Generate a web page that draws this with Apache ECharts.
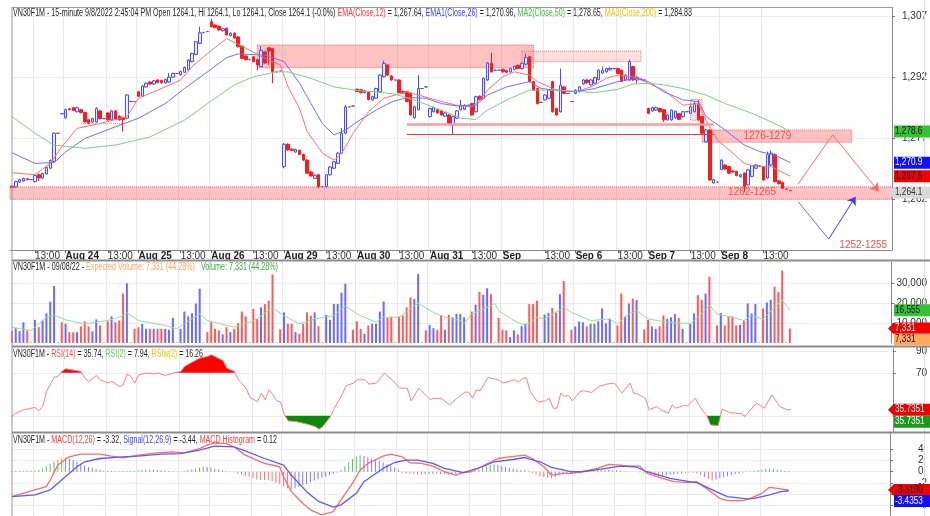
<!DOCTYPE html>
<html>
<head>
<meta charset="utf-8">
<script src="https://cdn.jsdelivr.net/npm/echarts/dist/echarts.min.js"></script>
<style>
  html, body { margin: 0; padding: 0; background: #fff; }
  #main { width: 930px; height: 516px; }
</style>
</head>
<body>
<div id="main"></div>
<script>
// ---- axis labels ----
const dayNames = ['Aug 24', 'Aug 25', 'Aug 26', 'Aug 29', 'Aug 30', 'Aug 31', 'Sep', 'Sep 6', 'Sep 7', 'Sep 8'];
const firstDayBars = 14;   // bars of Aug 23 still on screen
const barsPerDay = 19;
const slotCount = 230;     // bars that fit in the plot width
const priceTicks = [1262, 1277, 1292, 1307];
const volTicks = [10000, 20000, 30000];
const rsiTicks = [30, 70, 90];
const macdTicks = [-6, -4, -2, 0, 2, 4];

// ---- 15 minute bars: [open, close, low, high] ----
const ohlc = [
  // Aug 23 (partial)
  [1265.2,1264.9,1264.6,1265.4],[1265.0,1266.3,1264.8,1266.5],[1266.2,1266.8,1266.0,1267.0],[1266.5,1267.1,1266.3,1267.3],
  [1267.0,1266.8,1266.6,1267.2],[1266.8,1266.8,1266.8,1266.8],[1266.3,1267.8,1266.1,1268.0],[1268.0,1267.2,1266.4,1268.3],
  [1267.2,1268.3,1267.0,1268.5],[1268.2,1269.8,1268.0,1270.0],[1269.6,1271.5,1269.4,1271.8],[1271.3,1278.2,1271.0,1278.4],
  [1278.2,1278.2,1278.2,1278.2],[1283.0,1283.0,1283.0,1283.0],
  // Aug 24
  [1282.0,1284.0,1281.8,1284.3],[1284.2,1284.0,1283.8,1284.4],[1284.5,1283.8,1283.6,1284.7],[1283.5,1284.5,1283.3,1284.7],
  [1284.0,1283.3,1283.1,1284.2],[1283.3,1281.0,1280.8,1283.5],[1281.5,1280.6,1280.4,1281.7],[1281.0,1281.8,1280.8,1282.0],
  [1281.0,1284.3,1280.8,1284.6],[1283.7,1281.8,1281.6,1283.9],[1281.8,1281.8,1281.8,1281.8],[1283.2,1281.5,1281.3,1283.4],
  [1281.5,1283.7,1281.3,1283.9],[1283.7,1281.6,1281.4,1283.9],[1282.4,1281.5,1281.3,1282.6],[1282.0,1281.6,1278.6,1282.2],
  [1281.9,1287.6,1281.7,1287.8],[1286.0,1286.0,1286.0,1286.0],[1286.0,1286.0,1286.0,1286.0],
  // Aug 25
  [1288.4,1287.3,1287.1,1288.6],[1287.3,1289.8,1287.1,1290.0],[1289.6,1290.5,1289.4,1290.7],[1290.8,1290.3,1290.1,1291.0],
  [1290.3,1291.1,1290.1,1291.3],[1291.3,1290.7,1290.5,1291.5],[1291.2,1290.6,1290.4,1291.4],[1290.6,1291.4,1290.4,1291.6],
  [1290.8,1292.0,1290.6,1293.0],[1292.0,1292.9,1291.8,1293.1],[1292.9,1292.9,1292.9,1292.9],[1292.6,1293.4,1292.4,1293.6],
  [1293.2,1294.4,1293.0,1294.6],[1293.8,1296.2,1293.6,1296.4],[1295.8,1297.8,1295.6,1298.0],[1297.6,1300.7,1297.4,1300.9],
  [1300.3,1302.9,1300.1,1304.4],[1303.0,1303.0,1303.0,1303.0],[1303.2,1303.2,1303.2,1303.2],
  // Aug 26
  [1305.6,1304.4,1304.2,1306.3],[1304.8,1304.2,1304.0,1305.0],[1304.5,1303.6,1303.4,1304.7],[1303.4,1303.9,1303.2,1304.1],
  [1304.0,1302.4,1302.2,1304.2],[1302.2,1302.8,1302.0,1303.0],[1302.8,1301.6,1301.4,1303.0],[1301.9,1299.5,1299.3,1302.1],
  [1299.6,1296.6,1296.4,1299.8],[1297.2,1296.3,1296.1,1297.4],[1296.3,1296.3,1296.3,1296.3],[1297.0,1295.8,1295.6,1297.2],
  [1296.3,1295.0,1293.7,1296.5],[1294.6,1298.6,1294.4,1299.6],[1298.2,1295.5,1295.3,1298.4],[1299.2,1298.4,1295.0,1299.4],
  [1299.0,1293.3,1290.5,1299.2],[1293.3,1293.3,1293.3,1293.3],[1293.5,1293.5,1293.5,1293.5],
  // Aug 29
  [1270.0,1275.5,1269.6,1275.8],[1275.5,1274.1,1273.9,1275.7],[1274.3,1274.0,1273.8,1274.5],[1273.6,1274.2,1273.4,1274.4],
  [1274.0,1273.0,1272.8,1274.2],[1273.0,1271.6,1271.4,1273.2],[1271.6,1268.4,1268.2,1271.8],[1268.7,1267.7,1267.5,1268.9],
  [1267.1,1267.9,1266.9,1268.1],[1268.0,1265.1,1264.7,1268.2],[1265.1,1265.1,1265.1,1265.1],[1265.1,1268.0,1264.9,1268.2],
  [1268.0,1269.9,1267.8,1270.1],[1269.6,1271.2,1269.4,1271.4],[1270.8,1273.3,1270.6,1273.5],[1273.3,1278.2,1273.1,1279.5],
  [1278.2,1284.7,1278.0,1285.2],[1284.7,1284.7,1284.7,1284.7],[1284.9,1284.9,1284.9,1284.9],
  // Aug 30
  [1289.0,1288.5,1288.3,1289.2],[1288.9,1288.2,1288.0,1289.1],[1288.2,1288.7,1288.0,1288.9],[1288.4,1286.5,1286.3,1288.6],
  [1286.4,1287.2,1286.2,1287.4],[1286.8,1289.2,1286.6,1289.4],[1288.4,1292.5,1288.2,1292.7],[1292.1,1295.4,1291.9,1296.0],
  [1295.0,1292.5,1292.3,1295.2],[1292.3,1291.3,1291.1,1292.5],[1291.3,1291.3,1291.3,1291.3],[1291.3,1288.2,1288.0,1291.5],
  [1288.5,1288.1,1287.9,1288.7],[1288.4,1286.0,1285.8,1288.6],[1288.0,1282.7,1282.5,1288.2],[1282.0,1284.7,1281.8,1285.0],
  [1284.0,1289.2,1283.8,1292.5],[1289.2,1289.2,1289.2,1289.2],[1289.6,1289.6,1289.6,1289.6],
  // Aug 31
  [1282.3,1284.3,1282.1,1284.5],[1283.5,1284.5,1283.3,1284.7],[1284.0,1283.2,1283.0,1284.2],[1283.7,1282.7,1282.5,1283.9],
  [1282.4,1283.2,1282.2,1283.4],[1282.7,1280.6,1280.4,1282.9],[1280.2,1282.3,1278.0,1282.5],[1281.9,1283.7,1281.7,1283.9],
  [1284.0,1285.1,1283.8,1286.4],[1284.1,1285.1,1283.9,1285.3],[1285.1,1285.1,1285.1,1285.1],[1285.5,1282.7,1282.5,1285.7],
  [1283.5,1287.2,1283.3,1287.4],[1287.3,1286.5,1286.3,1287.5],[1286.8,1291.7,1286.6,1291.9],[1291.3,1295.5,1291.1,1295.7],
  [1295.4,1293.3,1293.1,1298.0],[1293.7,1293.7,1293.7,1293.7],[1293.7,1293.7,1293.7,1293.7],
  // Sep 1
  [1293.9,1293.3,1293.1,1294.1],[1293.6,1293.2,1293.0,1293.8],[1293.3,1294.1,1293.1,1294.3],[1293.9,1294.7,1293.7,1294.9],
  [1294.9,1294.1,1293.9,1295.1],[1294.1,1295.4,1293.9,1295.6],[1295.2,1296.8,1295.0,1297.8],[1297.0,1290.9,1290.7,1297.2],
  [1290.9,1288.8,1288.6,1291.1],[1289.2,1285.5,1285.3,1289.4],[1285.8,1285.8,1285.8,1285.8],[1286.4,1287.6,1286.2,1287.8],
  [1286.8,1288.8,1286.6,1289.0],[1290.9,1283.5,1283.3,1291.1],[1284.3,1282.7,1282.5,1284.5],[1283.5,1290.0,1283.3,1294.1],
  [1289.6,1288.0,1287.8,1289.8],[1288.0,1288.0,1288.0,1288.0],[1286.0,1286.0,1286.0,1286.0],
  // Sep 6
  [1288.0,1288.8,1287.8,1289.0],[1288.4,1289.6,1288.2,1289.8],[1290.3,1291.3,1290.1,1291.5],[1291.3,1290.6,1290.4,1291.5],
  [1290.1,1291.3,1289.9,1291.5],[1290.5,1291.9,1290.3,1292.1],[1291.4,1293.7,1291.2,1293.9],[1293.0,1293.7,1292.8,1294.6],
  [1293.3,1294.1,1293.1,1294.3],[1293.8,1294.2,1293.6,1294.4],[1294.1,1294.1,1294.1,1294.1],[1294.1,1292.9,1292.7,1294.3],
  [1293.7,1290.9,1290.7,1293.9],[1291.3,1292.5,1291.1,1292.7],[1291.3,1295.8,1291.1,1296.3],[1294.6,1291.3,1291.1,1294.8],
  [1291.3,1292.0,1290.4,1292.2],[1291.5,1291.5,1291.5,1291.5],[1291.3,1291.3,1291.3,1291.3],
  // Sep 7
  [1284.3,1283.1,1282.9,1284.5],[1283.7,1284.5,1283.5,1284.7],[1283.9,1284.5,1283.7,1284.7],[1284.3,1283.5,1283.3,1284.5],
  [1284.0,1281.5,1281.0,1284.2],[1281.5,1282.7,1281.3,1282.9],[1281.5,1283.9,1281.3,1284.1],[1282.0,1283.6,1281.8,1283.8],
  [1283.0,1281.6,1281.4,1283.2],[1282.3,1283.5,1282.1,1283.7],[1283.5,1283.5,1283.5,1283.5],[1283.1,1284.7,1282.9,1284.9],
  [1283.5,1285.5,1283.3,1286.0],[1285.5,1281.5,1281.3,1286.4],[1282.3,1278.2,1278.0,1282.5],[1276.1,1279.0,1275.9,1279.2],
  [1279.0,1266.7,1266.5,1279.2],[1266.0,1266.8,1265.8,1267.0],[1266.2,1266.2,1266.2,1266.2],
  // Sep 8
  [1269.3,1271.6,1269.1,1271.8],[1270.4,1269.4,1269.2,1270.6],[1270.0,1268.4,1268.2,1270.2],[1268.9,1268.7,1268.5,1269.1],
  [1268.8,1267.8,1267.6,1269.0],[1267.5,1268.0,1267.3,1268.2],[1268.4,1265.1,1263.8,1268.6],[1265.5,1269.2,1265.3,1269.4],
  [1267.6,1270.2,1267.4,1270.4],[1269.6,1270.4,1269.4,1270.6],[1270.2,1270.2,1270.2,1270.2],[1270.0,1266.7,1266.5,1270.2],
  [1267.2,1272.9,1267.0,1273.7],[1270.4,1273.3,1270.2,1274.0],[1273.0,1266.3,1266.1,1273.2],[1266.5,1265.8,1265.6,1266.7],
  [1266.1,1264.7,1264.5,1266.3],[1264.5,1264.5,1264.5,1264.5],[1264.1,1264.1,1264.1,1264.1]
];

const volumes = [
  6000,7500,6000,10500,6300,300,11700,8000,11400,15000,20900,28900,300,10500,
  9700,5500,5500,5500,8400,10900,8400,5900,11900,8900,300,11000,13500,10500,11400,25000,30200,300,7200,
  8000,9700,7200,7200,7200,7200,7200,7200,6700,12700,300,7200,15900,13500,15000,20000,27500,300,5500,
  10500,7200,6400,4400,8000,5500,7200,10000,15900,13500,300,17200,12200,18000,19700,21400,34700,300,6900,
  15500,9700,9700,5500,4700,9700,15500,13900,15500,8500,300,14200,11700,19700,19700,25500,30000,300,6700,
  11000,7200,4700,8900,9700,9700,15900,21000,12700,13400,300,13400,13900,18000,23000,22200,35000,300,6400,
  9200,7500,6700,14200,6700,14200,13000,14700,14700,13000,300,15900,19400,25900,24400,27700,24700,300,12700,
  6700,6400,3000,6400,4400,8500,9700,19700,19700,21400,300,14400,15200,17700,15500,24700,31400,300,6700,
  8400,10900,10500,8400,9700,9700,11000,17500,10000,12200,300,8900,25000,13400,20000,22500,21700,300,6900,
  11700,8400,7200,8500,13900,12200,13000,14700,12700,7200,300,9700,15000,24200,21900,25000,33500,300,8900,
  15200,8900,13500,13500,8900,9200,11400,20000,15000,19700,300,17500,20500,21900,28500,25900,36700,300,7331
];

// moving averages, read as [bar, value]
const ema12 = [[0,1268.5],[6,1268.0],[10,1270.8],[13,1274.9],[17,1279.4],[23,1280.6],[30,1282.3],[33,1286.8],[38,1288.8],[44,1291.3],[47,1294.6],[51,1297.8],[56,1301.5],[61,1299.1],[66,1296.6],[70,1295.0],[72,1289.6],[75,1284.3],[77,1278.6],[81,1273.3],[84,1271.6],[86,1273.3],[89,1278.2],[93,1283.5],[97,1286.8],[103,1288.4],[106,1287.6],[112,1286.0],[116,1285.1],[120,1284.7],[122,1286.4],[124,1288.8],[128,1292.1],[131,1293.3],[135,1292.5],[137,1290.9],[142,1288.8],[147,1288.4],[151,1289.6],[155,1291.7],[158,1292.5],[162,1292.1],[165,1290.9],[170,1288.8],[175,1285.1],[179,1285.5],[181,1281.4],[184,1276.5],[188,1273.3],[191,1270.8],[194,1270.0],[198,1270.0],[203,1267.64]];
const ema26 = [[0,1273.4],[6,1270.8],[11,1271.0],[14,1273.6],[19,1276.9],[27,1279.8],[33,1281.9],[40,1285.5],[45,1289.2],[51,1293.3],[56,1296.8],[59,1297.7],[66,1297.4],[71,1295.8],[75,1290.5],[78,1285.5],[81,1280.5],[84,1277.8],[87,1279.0],[90,1281.0],[95,1283.9],[99,1285.9],[103,1287.0],[108,1286.8],[112,1285.5],[116,1284.9],[121,1285.1],[124,1287.6],[129,1289.6],[135,1290.9],[138,1289.2],[143,1288.7],[147,1288.4],[152,1289.2],[158,1290.9],[163,1291.7],[166,1290.9],[170,1288.4],[175,1286.4],[179,1286.0],[181,1282.3],[186,1279.0],[191,1275.3],[195,1273.7],[199,1272.8],[203,1270.96]];
const ma50 = [[0,1282.3],[6,1278.2],[11,1275.3],[19,1274.5],[27,1275.3],[36,1277.3],[45,1281.4],[51,1285.5],[58,1290.1],[63,1292.1],[69,1293.3],[72,1293.3],[78,1291.7],[84,1289.6],[90,1288.7],[95,1288.4],[100,1287.8],[106,1286.0],[112,1283.9],[117,1281.9],[121,1281.6],[124,1283.9],[130,1286.8],[135,1288.8],[143,1288.8],[152,1288.2],[158,1289.0],[162,1290.3],[166,1290.5],[170,1290.1],[175,1289.2],[181,1287.6],[186,1285.5],[193,1283.1],[198,1281.0],[203,1278.65]];
const volAvg = [[0,8000],[5,6350],[9,13000],[11,14200],[14,11700],[19,9700],[25,11350],[28,13000],[30,15200],[33,11350],[40,8850],[43,7200],[45,9700],[49,14700],[51,11350],[58,8000],[61,9700],[64,12200],[68,18000],[71,13850],[75,9700],[79,12200],[84,13850],[87,18850],[90,14700],[95,10500],[97,13000],[101,13000],[105,18850],[106,20000],[110,15500],[113,13000],[117,11350],[118,10000],[120,14700],[124,18000],[126,20000],[127,16350],[131,11350],[134,8850],[137,13000],[139,12200],[144,18000],[146,15500],[151,11350],[156,12200],[158,9700],[161,14700],[163,16350],[166,12200],[171,10500],[177,9700],[180,14700],[182,19200],[184,14700],[188,13000],[191,11350],[193,13850],[196,12200],[199,18000],[201,21700],[203,16555]];

const rsi14 = [[0,29.4],[1,32.5],[3,35.6],[6,37.8],[7,34.6],[8,38.7],[9,52.6],[11,65.6],[12,66.6],[13,71.2],[14,73.7],[17,71.9],[18,71.2],[19,65],[20,61.9],[22,67.5],[23,63.5],[25,60.4],[26,61.9],[28,57.3],[29,58.8],[30,68.8],[31,66.6],[32,60.4],[33,68.1],[35,69.7],[37,68.8],[38,69.7],[40,67.5],[42,69.7],[44,71.2],[45,75.9],[47,79.9],[49,83.6],[51,85.2],[52,86.7],[54,83],[55,81.2],[56,74.3],[58,71.2],[59,63.5],[61,55.7],[62,47.1],[64,43.3],[65,51.1],[66,44.9],[67,54.2],[68,49.5],[69,44],[70,42.7],[71,30.9],[72,25.3],[74,24.7],[77,22.2],[79,20.1],[80,17.6],[81,20.1],[83,29.4],[84,37.1],[86,49.5],[87,57.9],[89,60.4],[90,63.5],[92,63.5],[93,59.5],[95,60.4],[97,69.7],[99,63.5],[101,55.7],[103,55.7],[104,44],[106,55.7],[109,44.9],[110,46.4],[112,45.8],[114,40.2],[116,46.4],[118,52],[119,52],[120,46.4],[121,54.2],[122,53.3],[124,65.6],[126,64.1],[127,62.9],[128,60.4],[131,63.5],[132,61.3],[133,64.4],[134,65.6],[135,52.6],[137,42.7],[139,44],[140,46.4],[141,37.1],[142,37.1],[143,51.1],[144,48],[145,48.9],[146,44],[148,52.6],[149,53.3],[151,51.7],[153,57.3],[155,59.5],[157,60.4],[158,55.7],[159,51.1],[161,60.4],[162,51.1],[163,50.2],[165,46.4],[166,35.6],[168,38.7],[169,35.6],[171,32.5],[172,40.2],[173,37.1],[175,39.6],[176,39.3],[178,46.4],[179,40.2],[180,34.6],[181,30.3],[182,21.6],[184,21],[185,36.2],[187,33.1],[190,31.9],[191,29.4],[192,34],[194,41.8],[196,37.1],[198,49.5],[200,38.7],[202,35.6],[203,35.74]];

const macd = [[0,-4.5],[6,-3.29],[9,-2.7],[10,-1.5],[12,1.2],[15,2.7],[18,3.18],[23,3.18],[26,2.82],[29,2.52],[33,3.0],[38,3.42],[42,3.6],[45,3.42],[49,4.19],[51,4.8],[53,5.22],[56,5.09],[58,4.5],[61,3.0],[64,2.1],[66,1.5],[70,0.9],[71,-0.9],[73,-3.6],[76,-5.7],[78,-6.89],[81,-7.79],[84,-7.19],[86,-5.09],[89,-2.1],[91,0.3],[93,1.5],[97,2.82],[99,3.18],[102,2.7],[104,1.62],[107,1.5],[110,1.02],[113,0],[116,-0.6],[118,-0.18],[120,0],[123,1.02],[127,2.39],[130,2.7],[134,3.0],[136,2.39],[139,0.9],[141,-0.6],[144,-0.3],[146,-0.3],[149,0],[153,0.6],[156,1.32],[159,1.2],[161,1.02],[164,1.02],[166,-0.3],[170,-1.2],[173,-1.8],[177,-1.98],[179,-1.8],[182,-3.29],[185,-4.8],[187,-5.22],[191,-5.22],[193,-4.8],[196,-3.9],[198,-2.82],[200,-3.0],[203,-3.32]];
const signal = [[0,-4.5],[6,-4.19],[10,-3.29],[13,-1.5],[17,0.9],[19,1.8],[23,2.39],[29,2.7],[33,2.82],[39,3.18],[44,3.29],[49,3.9],[53,4.62],[58,4.5],[61,3.78],[66,2.39],[71,1.2],[73,-0.6],[77,-3.6],[80,-5.3],[84,-6.4],[86,-5.99],[90,-3.9],[92,-1.8],[97,0.6],[100,1.67],[103,2.1],[106,2.1],[110,1.5],[113,0.6],[118,-0.18],[123,0.9],[126,1.8],[131,2.21],[134,2.57],[138,1.8],[141,0.78],[146,0],[149,0],[154,0.48],[159,1.02],[163,0.9],[166,0],[172,-1.2],[177,-1.8],[179,-1.98],[184,-3.6],[187,-4.5],[192,-4.91],[194,-4.8],[198,-4.19],[201,-3.6],[203,-3.44]];
const histogram = [
  0.1,0.12,0.15,0.15,0.18,0.2,0.2, 0.3,0.6,1.0,1.4,1.8,2.1,2.4, 2.6,2.3,2.1,1.8,1.3,1.1,0.85,
  0.7,0.5,0.35,0.2,0.15,0.12,0.1, 0.1,0.12,0.15,0.15,0.2,0.3,0.35, 0.4,0.4,0.35,0.3,0.25,0.2,0.15,
  0.1,0.05,0.05,0.1,0.3,0.45,0.6, 0.8,0.9,0.85,0.7,0.55,0.4,0.25, 0.1,0.05,-0.12,-0.3,-0.5,-0.75,-0.9,
  -1.2,-1.4,-1.5,-1.5,-1.55,-1.7,-2.0, -2.2,-2.6,-3.0,-3.2,-3.0,-2.7,-2.45, -2.2,-1.9,-1.6,-1.35,-1.1,-0.9,-0.65,
  -0.4,-0.15,0.3,1.0,1.7,2.3,2.8, 3.0,2.85,2.6,2.4,2.2,2.0,1.7, 1.3,1.0,0.7,0.35,-0.2,-0.3,-0.35,
  -0.45,-0.5,-0.5,-0.45,-0.4,-0.35,-0.35, -0.4,-0.5,-0.6,-0.5,-0.4,-0.25,
  -0.15,-0.1,0.05,0.2,0.4,0.75,1.0, 1.2,1.35,1.3,1.1,0.9,0.7,0.55, 0.4,0.3,0.35,0.1,-0.25,-0.5,-0.75,
  -0.95,-1.1,-1.2,-1.0,-0.7,-0.5,-0.35, -0.2,-0.1,0.05,0.1,0.15,0.2,0.2, 0.25,0.3,0.35,0.3,0.3,0.25,0.2,
  0.1,0.05,0.0,-0.05,-0.1,-0.2,-0.35, -0.5,-0.6,-0.7,-0.75,-0.7,-0.6,-0.5, -0.4,-0.3,-0.2,-0.15,-0.2,-0.35,-0.6,
  -0.95,-1.3,-1.6,-1.45,-1.2,-1.0,-0.8, -0.6,-0.45,-0.3,-0.2,-0.05,0.1,0.2, 0.3,0.4,0.5,0.55,0.5,0.35,0.25,
  0.15,0.12
];

// ---- layout / style ----
const FONT = '"Liberation Sans Narrow", "Liberation Sans", Arial, sans-serif';
const UP = '#6b6bff', DOWN = '#ff5a5a';
const GRID_L = 10, GRID_R = 37;
const gridTops = [8, 262, 348, 433];
const gridHeights = [242, 81, 84, 83];

const tickLabels = new Array(slotCount).fill('');
tickLabels[6] = '13:00';
dayNames.forEach((d, k) => {
  const s = firstDayBars + barsPerDay * k;
  tickLabels[s] = d;
  if (s + 11 < slotCount) tickLabels[s + 11] = '13:00';
});
const categories = tickLabels.map((_, i) => String(i));
const hasLabel = (idx) => tickLabels[idx] !== '';

const chart = echarts.init(document.getElementById('main'), null, { renderer: 'canvas' });

function xAxisFor(k) {
  return {
    type: 'category', gridIndex: k, data: categories, boundaryGap: true,
    axisLine: { show: k === 0, lineStyle: { color: '#8a8a8a' } },
    axisTick: { show: k === 0, interval: hasLabel, alignWithLabel: true, length: 3, lineStyle: { color: '#666' } },
    axisLabel: {
      show: k === 0, interval: hasLabel, align: 'left', margin: 1, fontSize: 10, color: '#222', fontFamily: FONT,
      formatter: (v, idx) => tickLabels[idx] === '13:00' ? '{t|13:00}' : '{d|' + tickLabels[idx] + '}',
      rich: { t: { fontSize: 10, fontFamily: FONT, color: '#333' }, d: { fontSize: 10, fontFamily: FONT, fontWeight: 'bold', color: '#222' } }
    },
    splitLine: { show: true, interval: hasLabel, lineStyle: { color: '#e8e8f4' } }
  };
}

function yAxisFor(k, min, max, ticks, fmt, align, margin) {
  return {
    type: 'value', gridIndex: k, position: 'right', min: min, max: max,
    axisLine: { show: true, lineStyle: { color: '#8a8a8a' } },
    axisTick: { show: true, customValues: ticks, length: 3, lineStyle: { color: '#777' } },
    axisLabel: { customValues: ticks, formatter: fmt, align: align, margin: margin, fontSize: 10, color: '#333', fontFamily: FONT },
    splitLine: { show: true, lineStyle: { color: '#ececf6' } }
  };
}

const zoneStyle = { color: 'rgba(255,110,110,0.42)', borderColor: '#ff5c5c', borderType: 'dotted', borderWidth: 1 };
const lightZone = { color: 'rgba(255,140,140,0.28)', borderColor: '#ff7070', borderType: 'dotted', borderWidth: 1 };

function levelFill(pairs, level, above) {
  const out = [[pairs[0][0], level]];
  for (let k = 0; k < pairs.length; k++) {
    const [x, v] = pairs[k];
    if (k > 0) {
      const [px, pv] = pairs[k - 1];
      if ((pv - level) * (v - level) < 0) {
        const t = (level - pv) / (v - pv);
        out.push([px + t * (x - px), level]);
      }
    }
    out.push([x, above ? Math.max(v, level) : Math.min(v, level)]);
  }
  out.push([pairs[pairs.length - 1][0], level]);
  return out;
}

function fillSeries(level, above, color) {
  return {
    type: 'custom', xAxisIndex: 2, yAxisIndex: 2, data: [[0, 50]], silent: true, z: 2,
    renderItem: (params, api) => {
      const base = api.coord([0, level]);
      const bw = api.size([1, 0])[0];
      const points = levelFill(rsi14, level, above).map(p => [base[0] + p[0] * bw, api.coord([0, p[1]])[1]]);
      return { type: 'polygon', shape: { points: points }, style: { fill: color } };
    }
  };
}

const thin = (color, w) => ({ type: 'line', symbol: 'none', lineStyle: { color: color, width: w || 1 }, silent: true });
const fmtNum = v => v.toLocaleString('en-US');

const option = {
  animation: false,
  backgroundColor: '#fff',
  grid: gridTops.map((t, k) => ({ left: GRID_L, right: GRID_R, top: t, height: gridHeights[k] })),
  xAxis: [0, 1, 2, 3].map(xAxisFor),
  yAxis: [
    yAxisFor(0, 1249.5, 1309, priceTicks, fmtNum, 'right', 35),
    yAxisFor(1, 0, 41000, volTicks, fmtNum, 'left', 5),
    yAxisFor(2, 15, 93, rsiTicks, v => (v === 30 ? '' : String(v)), 'left', 23),
    yAxisFor(3, -8, 7, macdTicks, v => String(v), 'left', 28)
  ],
  series: [
    {
      type: 'candlestick', xAxisIndex: 0, yAxisIndex: 0, data: ohlc, barWidth: 3,
      itemStyle: { color: '#eeeeff', color0: '#ff1a1a', borderColor: '#4b4bff', borderColor0: '#ff1a1a', borderWidth: 1 },
      markArea: {
        silent: true,
        data: [
          [{ yAxis: 1265, itemStyle: zoneStyle }, { yAxis: 1262 }],
          [{ coord: [64, 1299.9], itemStyle: zoneStyle }, { coord: [136, 1294.3] }],
          [{ coord: [133, 1298.4], itemStyle: lightZone }, { coord: [164, 1295.8] }],
          [{ coord: [180, 1279], itemStyle: zoneStyle }, { coord: [219, 1276] }],
          [{ coord: [177, 1286.5], itemStyle: lightZone }, { coord: [180, 1281.4] }]
        ]
      },
      markLine: {
        silent: true, symbol: 'none', label: { show: false },
        data: [
          [{ yAxis: 1252.2, lineStyle: { color: '#ff2020', width: 1.5, type: 'solid' } }, { yAxis: 1252.2 }],
          [{ coord: [103, 1280.5], lineStyle: { color: '#ff9a9a', width: 2.5, type: 'solid' } }, { coord: [183, 1280.5] }],
          [{ coord: [103, 1277.9], lineStyle: { color: '#ff3030', width: 1, type: 'solid' } }, { coord: [183, 1277.9] }],
          [{ coord: [18, 1280.6], lineStyle: { color: '#ff8a8a', width: 1, type: 'dotted' } }, { coord: [29, 1280.6] }],
          [{ coord: [205, 1265.7], lineStyle: { color: '#ff6b6b', width: 1, type: 'solid' } }, { coord: [214, 1277.8] }],
          [{ coord: [214, 1277.8], lineStyle: { color: '#ff6b6b', width: 1, type: 'solid' } }, { coord: [226, 1263.9], symbol: 'arrow', symbolSize: 8 }],
          [{ coord: [205, 1261.4], lineStyle: { color: '#6b6bff', width: 1, type: 'solid' } }, { coord: [213, 1252.2] }],
          [{ coord: [213, 1252.2], lineStyle: { color: '#3a3aff', width: 1, type: 'solid' } }, { coord: [220, 1262.6], symbol: 'arrow', symbolSize: 8 }]
        ]
      },
      markPoint: {
        silent: true, symbol: 'circle', symbolSize: 1, itemStyle: { color: 'rgba(0,0,0,0)' },
        label: { show: true, position: 'inside', color: '#ff4a4a', fontSize: 10, fontFamily: FONT },
        data: [
          { coord: [193, 1263.6], label: { formatter: '1262-1265' } },
          { coord: [197, 1277.5], label: { formatter: '1276-1279' } },
          { coord: [222, 1250.7], label: { formatter: '1252-1255' } }
        ]
      }
    },
    Object.assign(thin('#ff7070'), { xAxisIndex: 0, yAxisIndex: 0, data: ema12 }),
    Object.assign(thin('#6f6fff'), { xAxisIndex: 0, yAxisIndex: 0, data: ema26 }),
    Object.assign(thin('#7ed07e'), { xAxisIndex: 0, yAxisIndex: 0, data: ma50 }),
    {
      type: 'bar', xAxisIndex: 1, yAxisIndex: 1, barWidth: 2, silent: true,
      data: volumes.map((v, i) => ({ value: v, itemStyle: { color: ohlc[i][1] > ohlc[i][0] ? UP : DOWN } }))
    },
    Object.assign(thin('#98dc98'), { xAxisIndex: 1, yAxisIndex: 1, data: volAvg }),
    fillSeries(70, true, '#ff0000'),
    fillSeries(30, false, '#0a8a0a'),
    Object.assign(thin('#ff8080'), { xAxisIndex: 2, yAxisIndex: 2, data: rsi14, z: 3 }),
    {
      type: 'bar', xAxisIndex: 3, yAxisIndex: 3, barWidth: 1, silent: true,
      data: histogram.map((v, i) => {
        const p = i > 0 ? histogram[i - 1] : v;
        const c = v >= 0 ? (v >= p ? '#66bb66' : '#7d7dff') : (v <= p ? '#ff7070' : '#7d7dff');
        return { value: v, itemStyle: { color: c } };
      })
    },
    Object.assign(thin('#ff6a6a', 1.3), { xAxisIndex: 3, yAxisIndex: 3, data: macd }),
    Object.assign(thin('#5a5aff', 1.3), { xAxisIndex: 3, yAxisIndex: 3, data: signal })
  ]
};

chart.setOption(option);

// ---- frame, titles and last-value tags (placed through the axes' scales) ----
const measure = document.createElement('canvas').getContext('2d');
function titleText(x, y, parts, width) {
  measure.font = '10px ' + FONT;
  const plain = parts.map(p => p[0]).join('');
  const w = measure.measureText(plain).width;
  const rich = {};
  let text = '';
  parts.forEach((p, i) => { rich['p' + i] = { fill: p[1], font: '10px ' + FONT }; text += '{p' + i + '|' + p[0].replace(/[{}|]/g, '') + '}'; });
  return { type: 'text', x: x, y: y, scaleX: width / w, silent: true, z: 100,
    style: { x: 0, y: 0, text: text, rich: rich, font: '10px ' + FONT, fill: '#222', verticalAlign: 'top' } };
}
const K = '#262626';
const titles = [
  titleText(13, 8, [['VN30F1M - 15-minute 9/8/2022 2:45:04 PM Open 1264.1, Hi 1264.1, Lo 1264.1, Close 1264.1 (-0.0%) ', K], ['EMA(Close,12)', '#ff3a3a'], [' = 1,267.64, ', K], ['EMA1(Close,26)', '#4040ff'], [' = 1,270.96, ', K], ['MA2(Close,50)', '#3cc83c'], [' = 1,278.65, ', K], ['MA3(Close,200)', '#f5c400'], [' = 1,284.83', K]], 679),
  titleText(13, 262, [['VN30F1M - 09/08/22 - ', K], ['Expected Volume: 7,331 (44.28%)', '#ffa860'], ['   Volume: 7,331 (44.28%)', '#3caa3c']], 265),
  titleText(13, 349, [['VN30F1M - ', K], ['RSI(14)', '#ff4a4a'], [' = 35.74, ', K], ['RSI(2)', '#5ad05a'], [' = 7.94, ', K], ['RSIw(2)', '#f5c400'], [' = 16.26', K]], 190),
  titleText(13, 435, [['VN30F1M - ', K], ['MACD(12,26)', '#ff3a3a'], [' = -3.32, ', K], ['Signal(12,26,9)', '#4040ff'], [' = -3.44, ', K], ['MACD Histogram', '#ff3a3a'], [' = 0.12', K]], 264)
];

function hline(y, x1, x2, color, w) {
  return { type: 'line', silent: true, z: 90, shape: { x1: x1, y1: y, x2: x2, y2: y }, style: { stroke: color, lineWidth: w } };
}
function vline(x, y1, y2, color, w) {
  return { type: 'line', silent: true, z: 90, shape: { x1: x, y1: y1, x2: x, y2: y2 }, style: { stroke: color, lineWidth: w } };
}
const frame = [
  hline(7.5, 12, 893, '#9a9a9a', 1),
  vline(12, 7, 516, '#9a9a9a', 1),
  vline(924.5, 0, 516, '#dcdcdc', 1),
  hline(260.5, 12, 930, '#8c8c8c', 2),
  hline(346.5, 12, 930, '#8c8c8c', 2),
  hline(432.5, 12, 930, '#8c8c8c', 2)
];

function tag(axisIndex, value, text, bg, fg, arrow, shift) {
  const y = chart.convertToPixel({ yAxisIndex: axisIndex }, value) + (shift || 0);
  const h = 12, left = 894;
  const shape = arrow
    ? [[left - 6, y], [left, y - h / 2], [932, y - h / 2], [932, y + h / 2], [left, y + h / 2]]
    : [[left, y - h / 2], [932, y - h / 2], [932, y + h / 2], [left, y + h / 2]];
  return [
    { type: 'polygon', silent: true, z: 95, shape: { points: shape }, style: { fill: bg } },
    { type: 'text', silent: true, z: 96, x: left + 1, y: y, scaleX: 0.82,
      style: { x: 0, y: 0, text: text, font: '10px ' + FONT, fill: fg, verticalAlign: 'middle' } }
  ];
}
const tags = [].concat(
  tag(0, 1278.65, '1,278.6', '#33c433', '#111'),
  tag(0, 1270.96, '1,270.9', '#1010ff', '#fff'),
  tag(0, 1267.64, '1,267.6', '#f00000', '#111'),
  tag(0, 1264.1, '1,264.1', '#d9d9d9', '#333', true, 2),
  tag(1, 16555, '16,555', '#33c433', '#111'),
  tag(1, 7331, '7,331', '#f00000', '#fff', true),
  tag(1, 7331, '7,331', '#ffa860', '#111', false, 11),
  tag(2, 35.74, '35.7351', '#f00000', '#fff', true),
  tag(2, 35.74, '35.7351', '#1a9a1a', '#fff', false, 12),
  tag(3, -3.319, '-3.3190', '#f00000', '#111', true),
  tag(3, -3.319, '-3.4353', '#1010ff', '#fff', false, 11)
);

chart.setOption({ graphic: frame.concat(titles, tags) });
</script>
</body>
</html>
